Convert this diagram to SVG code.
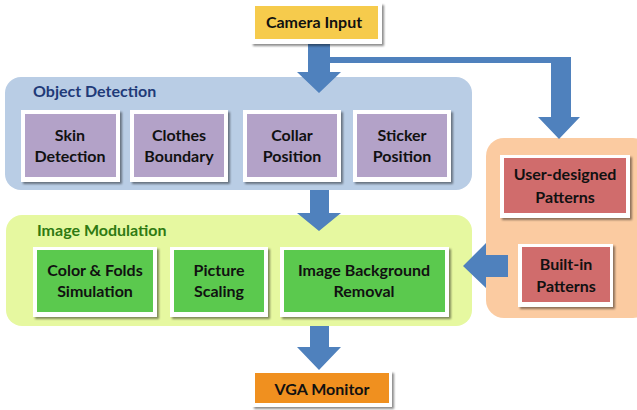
<svg xmlns="http://www.w3.org/2000/svg" width="637" height="410" viewBox="0 0 637 410">
  <style>
    text { font-family: Lato, "Open Sans", "Liberation Sans", sans-serif; font-weight: bold; text-anchor: middle; font-size: 16px; fill: #111; }
    .title { text-anchor: start; font-size: 16px; }
    .frame { fill: #ffffff; filter: url(#shadow); }
    .arrow { fill: #4F81BD; }
  </style>
  <defs>
    <filter id="shadow" x="-10%" y="-10%" width="130%" height="140%">
      <feGaussianBlur in="SourceAlpha" stdDeviation="1.2"/>
      <feOffset dx="1.5" dy="2" result="b"/>
      <feComponentTransfer><feFuncA type="linear" slope="0.45"/></feComponentTransfer>
      <feMerge><feMergeNode/><feMergeNode in="SourceGraphic"/></feMerge>
    </filter>
  </defs>

  <!-- containers -->
  <g id="object-detection">
    <rect x="5" y="77" width="467" height="113" rx="16" fill="#B9CDE5"/>
    <text class="title" x="33" y="97" style="fill:#1F3A78">Object Detection</text>
  </g>
  <g id="image-modulation">
    <rect x="6" y="215" width="466" height="111" rx="16" fill="#E6F8A0"/>
    <text class="title" x="37" y="236" style="fill:#2F7A12">Image Modulation</text>
  </g>
  <g id="patterns">
    <rect x="486" y="138" width="165" height="180" rx="18" fill="#FBCBA1"/>
  </g>

  <!-- connectors -->
  <g id="connectors">
    <!-- camera to object detection, with branch to patterns -->
    <path class="arrow" d="M308,44 H330 V57 H571 V117 H580 L559,139 L538,117 H551 V63 H330 V72 H341 L319,93 L297,72 H308 Z"/>
    <!-- object detection to image modulation -->
    <path class="arrow" d="M310,190 H329 V213 H341 L319,231 L297,213 H310 Z"/>
    <!-- built-in patterns to background removal -->
    <path class="arrow" d="M508,255 V277 H486 V288 L463,266 L486,243 V255 Z"/>
    <!-- image modulation to monitor -->
    <path class="arrow" d="M310,326 H329 V347 H341 L319,370 L297,347 H310 Z"/>
  </g>

  <!-- nodes -->
  <g id="camera-input">
    <rect class="frame" x="251" y="3" width="131" height="41"/>
    <rect x="255" y="6" width="123" height="33" fill="#F6CB4C"/>
    <text x="314" y="28">Camera Input</text>
  </g>

  <g id="skin-detection">
    <rect class="frame" x="21" y="110" width="99" height="72"/>
    <rect x="25" y="114" width="91" height="63" fill="#B3A2C8"/>
    <text x="70" y="141">Skin</text>
    <text x="70" y="162">Detection</text>
  </g>
  <g id="clothes-boundary">
    <rect class="frame" x="130" y="110" width="98" height="72"/>
    <rect x="134" y="114" width="90" height="63" fill="#B3A2C8"/>
    <text x="179" y="141">Clothes</text>
    <text x="179" y="162">Boundary</text>
  </g>
  <g id="collar-position">
    <rect class="frame" x="243" y="110" width="98" height="72"/>
    <rect x="247" y="114" width="90" height="63" fill="#B3A2C8"/>
    <text x="292" y="141">Collar</text>
    <text x="292" y="162">Position</text>
  </g>
  <g id="sticker-position">
    <rect class="frame" x="353" y="110" width="98" height="72"/>
    <rect x="357" y="114" width="90" height="63" fill="#B3A2C8"/>
    <text x="402" y="141">Sticker</text>
    <text x="402" y="162">Position</text>
  </g>

  <g id="color-folds-simulation">
    <rect class="frame" x="33" y="247" width="124" height="70"/>
    <rect x="37" y="250" width="116" height="62" fill="#5BC94E"/>
    <text x="95" y="276">Color &amp; Folds</text>
    <text x="95" y="297">Simulation</text>
  </g>
  <g id="picture-scaling">
    <rect class="frame" x="170" y="247" width="98" height="70"/>
    <rect x="174" y="250" width="90" height="62" fill="#5BC94E"/>
    <text x="219" y="276">Picture</text>
    <text x="219" y="297">Scaling</text>
  </g>
  <g id="image-background-removal">
    <rect class="frame" x="280" y="247" width="169" height="70"/>
    <rect x="284" y="250" width="161" height="62" fill="#5BC94E"/>
    <text x="364" y="276">Image Background</text>
    <text x="364" y="297">Removal</text>
  </g>

  <g id="user-designed-patterns">
    <rect class="frame" x="500" y="155" width="130" height="63"/>
    <rect x="504" y="158" width="122" height="55" fill="#D06C6C"/>
    <text x="565" y="180">User-designed</text>
    <text x="565" y="203">Patterns</text>
  </g>
  <g id="built-in-patterns">
    <rect class="frame" x="518" y="244" width="95" height="63"/>
    <rect x="522" y="247" width="88" height="55" fill="#D06C6C"/>
    <text x="566" y="270">Built-in</text>
    <text x="566" y="292">Patterns</text>
  </g>

  <g id="vga-monitor">
    <rect class="frame" x="252" y="371" width="140" height="36"/>
    <rect x="255" y="373" width="134" height="30" fill="#F0901F"/>
    <text x="322" y="395">VGA Monitor</text>
  </g>
</svg>
